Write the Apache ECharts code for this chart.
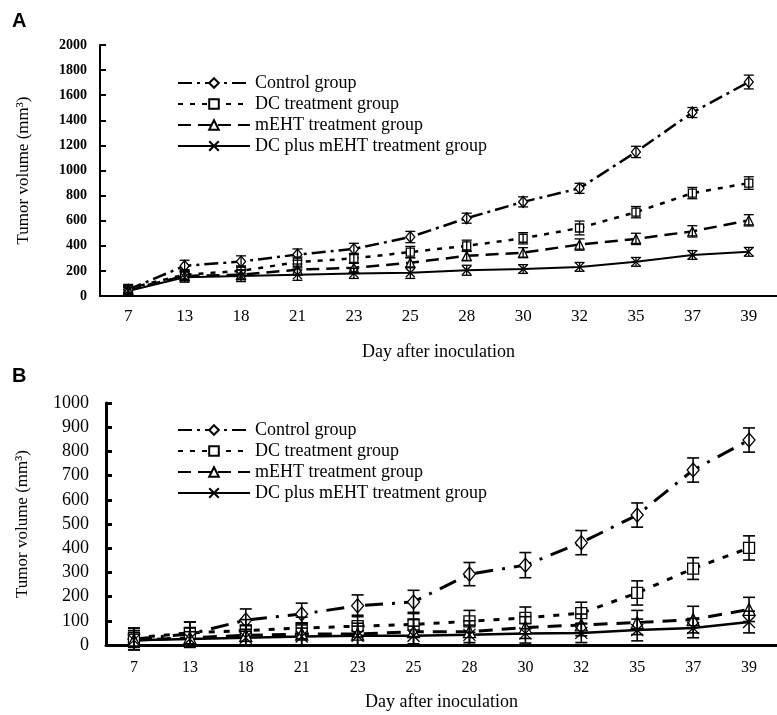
<!DOCTYPE html>
<html>
<head>
<meta charset="utf-8">
<script src="https://cdn.jsdelivr.net/npm/echarts@6/dist/echarts.min.js"></script>
<style>
  html, body { margin: 0; padding: 0; background: #fff; }
  #main { width: 777px; height: 715px; }
</style>
</head>
<body>
<div id="main"></div>
<script>
// days after inoculation
var days = ['7', '13', '18', '21', '23', '25', '28', '30', '32', '35', '37', '39'];
var groupNames = ['Control group', 'DC treatment group', 'mEHT treatment group', 'DC plus mEHT treatment group'];

// panel A: tumor volume (mm3), mean and error
var ctrlA = [50, 240, 275, 330, 375, 470, 620, 750, 858, 1148, 1462, 1705];
var ctrlAErr = [30, 45, 45, 45, 45, 45, 40, 40, 40, 45, 40, 55];
var dcA = [60, 170, 200, 270, 300, 350, 400, 460, 542, 668, 820, 900];
var dcAErr = [30, 40, 40, 40, 40, 45, 45, 45, 55, 45, 45, 50];
var mehtA = [50, 160, 170, 210, 225, 265, 320, 345, 410, 455, 515, 603];
var mehtAErr = [30, 40, 40, 45, 40, 40, 40, 40, 45, 45, 45, 45];
var dcmA = [40, 150, 160, 170, 180, 185, 205, 215, 232, 272, 327, 352];
var dcmAErr = [30, 40, 45, 45, 40, 45, 40, 35, 35, 35, 35, 35];

// panel B
var ctrlB = [25, 45, 103, 128, 162, 178, 293, 330, 423, 537, 723, 847];
var ctrlBErr = [45, 50, 46, 45, 45, 48, 48, 52, 50, 50, 50, 50];
var dcB = [30, 50, 60, 70, 78, 85, 98, 112, 132, 215, 316, 401];
var dcBErr = [40, 45, 45, 45, 45, 50, 45, 45, 45, 50, 45, 50];
var mehtB = [20, 30, 40, 45, 45, 55, 55, 72, 83, 93, 105, 147];
var mehtBErr = [40, 40, 40, 45, 45, 50, 45, 45, 45, 50, 55, 50];
var dcmB = [20, 25, 30, 35, 38, 38, 42, 48, 50, 62, 70, 95];
var dcmBErr = [25, 30, 35, 35, 40, 40, 40, 40, 40, 45, 40, 45];

var serif = '"Liberation Serif", "Times New Roman", serif';
var crossPath = 'path://M0,0L10,10M10,0L0,10';

var chart = echarts.init(document.getElementById('main'));

function lineSeries(name, data, idx, symbol, size, dash, width) {
  return {
    name: name,
    type: 'line',
    xAxisIndex: idx,
    yAxisIndex: idx,
    data: data,
    symbol: symbol,
    symbolSize: size,
    showAllSymbol: true,
    z: 3,
    lineStyle: { color: '#000', width: width, type: dash },
    itemStyle: { color: '#fff', borderColor: '#000', borderWidth: 1.3 },
    emphasis: { disabled: true }
  };
}

function errSeries(vals, errs, idx, cap, lw) {
  var d = [];
  for (var i = 0; i < vals.length; i++) {
    d.push([i, vals[i] - errs[i], vals[i] + errs[i]]);
  }
  return {
    type: 'custom',
    xAxisIndex: idx,
    yAxisIndex: idx,
    data: d,
    z: 4,
    silent: true,
    encode: { x: 0, y: [1, 2] },
    renderItem: function (params, api) {
      var lo = api.coord([api.value(0), api.value(1)]);
      var hi = api.coord([api.value(0), api.value(2)]);
      var h = cap / 2;
      var st = { stroke: '#000', lineWidth: lw };
      return {
        type: 'group',
        children: [
          { type: 'line', shape: { x1: lo[0], y1: lo[1], x2: hi[0], y2: hi[1] }, style: st },
          { type: 'line', shape: { x1: lo[0] - h, y1: lo[1], x2: lo[0] + h, y2: lo[1] }, style: st },
          { type: 'line', shape: { x1: hi[0] - h, y1: hi[1], x2: hi[0] + h, y2: hi[1] }, style: st }
        ]
      };
    }
  };
}

function xAxisCfg(idx, lw, fs, margin, gap) {
  return {
    type: 'category',
    gridIndex: idx,
    data: days,
    boundaryGap: true,
    name: 'Day after inoculation',
    nameLocation: 'middle',
    nameGap: gap,
    nameTextStyle: { fontFamily: serif, fontSize: 18, color: '#000' },
    axisLine: { lineStyle: { color: '#000', width: lw } },
    axisTick: { inside: true, length: 6, lineStyle: { color: '#000', width: lw } },
    axisLabel: { fontFamily: serif, fontSize: fs, color: '#000', margin: margin },
    splitLine: { show: false }
  };
}

function yAxisCfg(idx, max, step, lw, fs, margin, gap, bold) {
  return {
    type: 'value',
    gridIndex: idx,
    min: 0,
    max: max,
    interval: step,
    name: 'Tumor volume (mm\u00b3)',
    nameLocation: 'middle',
    nameRotate: 90,
    nameGap: gap,
    nameTextStyle: { fontFamily: serif, fontSize: 17, color: '#000' },
    axisLine: { show: true, lineStyle: { color: '#000', width: lw } },
    axisTick: { show: true, inside: true, length: 6, lineStyle: { color: '#000', width: lw } },
    axisLabel: {
      fontFamily: serif, fontSize: fs, color: '#000', margin: margin,
      fontWeight: bold ? 'bold' : 'normal',
      formatter: function (v) { return String(v); }
    },
    splitLine: { show: false }
  };
}

function legendCfg(top) {
  return {
    orient: 'vertical',
    left: 177,
    top: top,
    padding: 0,
    itemWidth: 72,
    itemHeight: 12,
    itemGap: 3,
    selectedMode: false,
    data: groupNames,
    textStyle: { fontFamily: serif, fontSize: 18, color: '#000' }
  };
}

var option = {
  backgroundColor: '#fff',
  animation: false,
  graphic: [
    { type: 'text', left: 12, top: 11, style: { text: 'A', font: 'bold 20px "Liberation Sans", Arial, sans-serif', fill: '#000' } },
    { type: 'text', left: 12, top: 366, style: { text: 'B', font: 'bold 20px "Liberation Sans", Arial, sans-serif', fill: '#000' } }
  ],
  grid: [
    { left: 100, top: 45, width: 680, height: 251 },
    { left: 106, top: 403, width: 678, height: 242 }
  ],
  legend: [legendCfg(74), legendCfg(421)],
  xAxis: [xAxisCfg(0, 2, 17, 12, 47), xAxisCfg(1, 3, 16, 15, 48)],
  yAxis: [yAxisCfg(0, 2000, 200, 2, 14, 13, 68, true), yAxisCfg(1, 1000, 100, 3, 18, 17, 75, false)],
  series: [
    lineSeries(groupNames[0], ctrlA, 0, 'diamond', [9, 11], [14, 5, 3, 5], 2.5),
    lineSeries(groupNames[1], dcA, 0, 'rect', 8, [5, 7], 2.5),
    lineSeries(groupNames[2], mehtA, 0, 'triangle', 9, [13, 7], 2.5),
    lineSeries(groupNames[3], dcmA, 0, crossPath, 9, 'solid', 2),
    errSeries(ctrlA, ctrlAErr, 0, 10, 1.3),
    errSeries(dcA, dcAErr, 0, 10, 1.3),
    errSeries(mehtA, mehtAErr, 0, 10, 1.3),
    errSeries(dcmA, dcmAErr, 0, 10, 1.3),

    lineSeries(groupNames[0], ctrlB, 1, 'diamond', [12, 14], [18, 9, 3, 9], 3),
    lineSeries(groupNames[1], dcB, 1, 'rect', 11, [6, 9], 3),
    lineSeries(groupNames[2], mehtB, 1, 'triangle', 12, [14, 9], 3),
    lineSeries(groupNames[3], dcmB, 1, crossPath, 12, 'solid', 2.5),
    errSeries(ctrlB, ctrlBErr, 1, 12, 1.6),
    errSeries(dcB, dcBErr, 1, 12, 1.6),
    errSeries(mehtB, mehtBErr, 1, 12, 1.6),
    errSeries(dcmB, dcmBErr, 1, 12, 1.6)
  ]
};

chart.setOption(option);
</script>
</body>
</html>
